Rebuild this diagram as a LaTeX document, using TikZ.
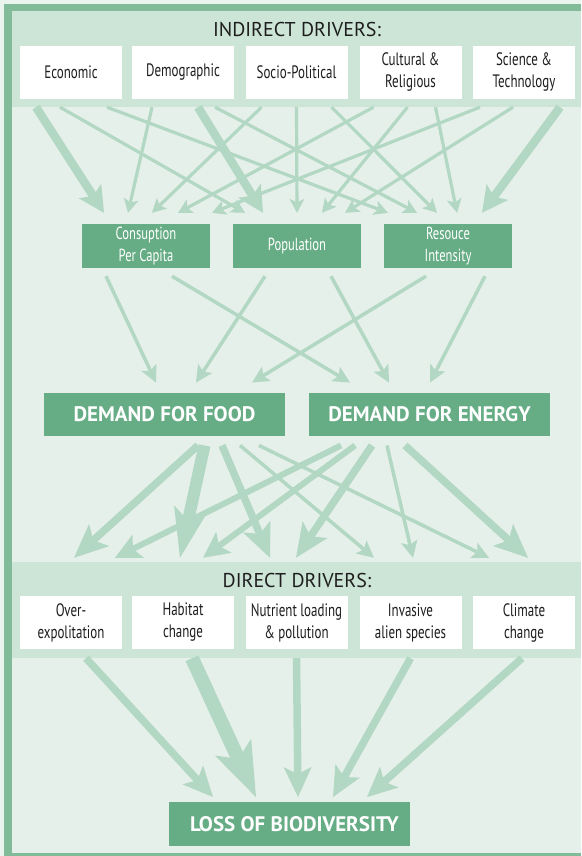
\documentclass[tikz,border=0pt]{standalone}
\usepackage{fontspec}
\setmainfont{PT Sans}
\newfontfamily\condf{PT Sans}[FakeStretch=0.72]
\usetikzlibrary{arrows.meta}
\definecolor{bgc}{HTML}{E6F0EA}
\definecolor{outc}{HTML}{EAF4EE}
\definecolor{framec}{HTML}{82BB9A}
\definecolor{bandc}{HTML}{CCE5D7}
\definecolor{boxc}{HTML}{66AD86}
\definecolor{arrc}{HTML}{B2D7C3}
\definecolor{txtc}{HTML}{1E1E1E}
\tikzset{
  wbox/.style={fill=white, minimum width=102pt, minimum height=53pt, inner sep=0pt, align=center,
    font=\condf\fontsize{18}{22}\selectfont, text=txtc},
  gbox/.style={fill=boxc, minimum width=128pt, minimum height=44pt, inner sep=0pt, align=center,
    text=white, font=\condf\fontsize{17.5}{22}\selectfont},
  bbox/.style={fill=boxc, minimum width=241pt, minimum height=43.5pt, inner sep=0pt,
    text=white, font=\bfseries\fontsize{21}{24}\selectfont},
  ttl/.style={inner sep=0pt, font=\fontsize{20}{22}\selectfont, text=txtc},
  aT/.style={draw=arrc, line width=3.2pt, -{Stealth[length=14pt,width=15pt,inset=3.5pt,line width=0pt]}},
  aK/.style={draw=arrc, line width=8.5pt, -{Stealth[length=26pt,width=27pt,inset=6pt,line width=0pt]}},
  aS/.style={draw=arrc, line width=3.5pt, -{Stealth[length=17pt,width=17pt,inset=4pt,line width=0pt]}},
  aM/.style={draw=arrc, line width=6pt, -{Stealth[length=26pt,width=26pt,inset=6pt,line width=0pt]}},
  aH/.style={draw=arrc, line width=7.5pt, -{Stealth[length=34pt,width=30pt,inset=8pt,line width=0pt]}},
  aV/.style={draw=arrc, line width=12pt, -{Stealth[length=50pt,width=34pt,inset=12pt,line width=0pt]}},
  aL/.style={draw=arrc, line width=7.5pt, -{Stealth[length=30pt,width=28pt,inset=7pt,line width=0pt]}},
  aW/.style={draw=arrc, line width=14pt, -{Stealth[length=55pt,width=40pt,inset=13pt,line width=0pt]}},
}
\begin{document}
\begin{tikzpicture}[x=1pt,y=-1pt]
\useasboundingbox (0,0) rectangle (581,856);
\fill[outc] (0,0) rectangle (581,856);
\fill[framec] (4,4) rectangle (581,856);
\fill[bgc] (12,11) rectangle (581,853);
\fill[bandc] (12,11) rectangle (581,107);
\fill[bandc] (12,562) rectangle (581,658);

% titles
\node[ttl] (tind) at (297,30) {INDIRECT DRIVERS:};
\node[ttl] (tdir) at (297,580) {DIRECT DRIVERS:};

% indirect drivers
\node[wbox] (eco) at (71,72.5) {Economic};
\node[wbox] (dem) at (183,72.5) {Demographic};
\node[wbox] (soc) at (296.5,72.5) {Socio-Political};
\node[wbox] (cul) at (410.5,72.5) {Cultural \&\\Religious};
\node[wbox] (sci) at (524,72.5) {Science \&\\Technology};

% middle
\node[gbox] (cons) at (146,246) {Consuption\\Per Capita};
\node[gbox] (pop) at (297,246) {Population};
\node[gbox] (res) at (448,246) {Resouce\\Intensity};

% demand
\node[bbox] (food) at (164.5,414.5) {DEMAND FOR FOOD};
\node[bbox] (ener) at (429.5,414.5) {DEMAND FOR ENERGY};

% direct drivers
\node[wbox] (over) at (71,622.5) {Over-\\expolitation};
\node[wbox] (hab) at (183,622.5) {Habitat\\change};
\node[wbox] (nut) at (296.5,622.5) {Nutrient loading\\\& pollution};
\node[wbox] (inv) at (410.5,622.5) {Invasive\\alien species};
\node[wbox] (cli) at (524,622.5) {Climate\\change};

% loss
\node[bbox] (loss) at (289.5,824) {\hspace{10pt}LOSS OF BIODIVERSITY};

% indirect -> middle
\draw[aT] ([shift={(-11,8)}]eco.south) -- ([shift={(-52,-11)}]pop.north);
\draw[aT] ([shift={(36,8)}]eco.south) -- ([shift={(-60,-11)}]res.north);
\draw[aT] ([shift={(-31,8)}]dem.south) -- ([shift={(-18,-11)}]cons.north);
\draw[aT] ([shift={(32,8)}]dem.south) -- ([shift={(-31,-11)}]res.north);
\draw[aT] ([shift={(-35,8)}]soc.south) -- ([shift={(6,-11)}]cons.north);
\draw[aT] ([shift={(0,8)}]soc.south) -- ([shift={(0,-11)}]pop.north);
\draw[aT] ([shift={(35,8)}]soc.south) -- ([shift={(-11,-11)}]res.north);
\draw[aT] ([shift={(-37,8)}]cul.south) -- ([shift={(32,-11)}]cons.north);
\draw[aT] ([shift={(-3,8)}]cul.south) -- ([shift={(25,-11)}]pop.north);
\draw[aT] ([shift={(25,8)}]cul.south) -- ([shift={(9,-11)}]res.north);
\draw[aT] ([shift={(-44,8)}]sci.south) -- ([shift={(66,-11)}]cons.north);
\draw[aT] ([shift={(-11,8)}]sci.south) -- ([shift={(48,-11)}]pop.north);
\draw[aK] ([shift={(-35,8)}]eco.south) -- ([shift={(-42,-11)}]cons.north);
\draw[aK] ([shift={(15,8)}]dem.south) -- ([shift={(-34,-11)}]pop.north);
\draw[aK] ([shift={(36,8)}]sci.south) -- ([shift={(34,-11)}]res.north);

% middle -> demand
\draw[aS] ([shift={(-40,8)}]cons.south) -- ([shift={(-8.5,-10)}]food.north);
\draw[aS] ([shift={(26,8)}]cons.south) -- ([shift={(-79.5,-10)}]ener.north);
\draw[aS] ([shift={(-32,8)}]pop.south) -- ([shift={(31.5,-10)}]food.north);
\draw[aS] ([shift={(34,8)}]pop.south) -- ([shift={(-40.5,-10)}]ener.north);
\draw[aS] ([shift={(-22,8)}]res.south) -- ([shift={(87.5,-10)}]food.north);
\draw[aS] ([shift={(37,8)}]res.south) -- ([shift={(0.5,-10)}]ener.north);

% demand -> direct
\draw[aS] ([shift={(75.5,9)}]food.south) -- ([shift={(-36.5,-38)}]inv.north);
\draw[aS] ([shift={(94.5,9)}]food.south) -- ([shift={(-35,-38)}]cli.north);
\draw[aS] ([shift={(-42.5,9)}]ener.south) -- ([shift={(2.5,-38)}]inv.north);
\draw[aM] ([shift={(-88.5,9)}]ener.south) -- ([shift={(44,-38)}]over.north);
\draw[aM] ([shift={(-74.5,9)}]ener.south) -- ([shift={(20,-38)}]hab.north);
\draw[aH] ([shift={(-57.5,9)}]ener.south) -- ([shift={(-0.5,-38)}]nut.north);
\draw[aH] ([shift={(-24.5,9)}]ener.south) -- ([shift={(4,-38)}]cli.north);
\draw[aH] ([shift={(33.5,9)}]food.south) -- ([shift={(3,-38)}]over.north);
\draw[aH] ([shift={(57.5,9)}]food.south) -- ([shift={(-26.5,-38)}]nut.north);
\draw[aV] ([shift={(40,9)}]food.south) -- ([shift={(-3,-38)}]hab.north);

% direct -> loss
\draw[aL] ([shift={(15,9)}]over.south) -- ([shift={(-76.5,-5)}]loss.north);
\draw[aW] ([shift={(9,9)}]hab.south) -- ([shift={(-33.5,-5)}]loss.north);
\draw[aL] ([shift={(0,9)}]nut.south) -- ([shift={(8.5,-5)}]loss.north);
\draw[aL] ([shift={(0,9)}]inv.south) -- ([shift={(43.5,-5)}]loss.north);
\draw[aL] ([shift={(-2,9)}]cli.south) -- ([shift={(77.5,-5)}]loss.north);
\end{tikzpicture}
\end{document}
